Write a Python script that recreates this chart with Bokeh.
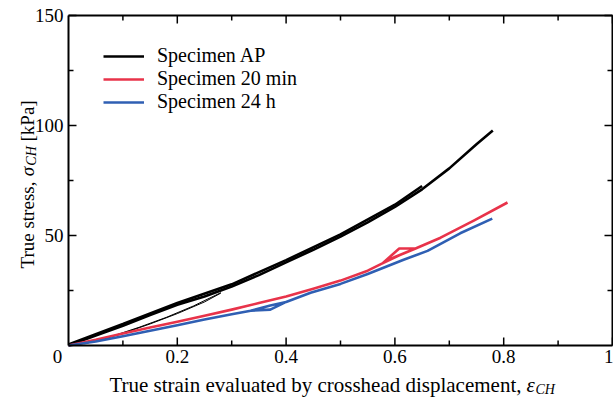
import math
from bokeh.plotting import figure
from bokeh.models import Range1d, Legend, LegendItem
from bokeh.core.properties import value
from bokeh.embed import file_html
from bokeh.resources import INLINE

# ---------------- data ----------------
# Specimen AP: envelope loading curve
ap_strain = [0.0, 0.05, 0.10, 0.15, 0.20, 0.25, 0.30, 0.35, 0.40, 0.45, 0.50, 0.55, 0.60, 0.65, 0.70, 0.75, 0.78]
ap_stress = [0.0, 4.5, 9.0, 13.8, 18.5, 22.3, 26.8, 32.0, 37.8, 43.5, 49.5, 56.0, 63.0, 71.0, 80.5, 91.5, 97.7]
# Specimen AP: earlier loading cycle up to 0.65
ap2_strain = [0.0, 0.10, 0.20, 0.30, 0.40, 0.50, 0.60, 0.65]
ap2_stress = [0.5, 9.8, 19.3, 27.8, 38.8, 50.5, 64.0, 72.5]
# Specimen AP: small initial cycles
ap3_strain = [0.03, 0.08, 0.13, 0.18, 0.23, 0.28]
ap3_stress = [0.8, 4.2, 8.3, 12.8, 18.0, 24.0]
ap4_strain = [0.05, 0.10, 0.15, 0.20, 0.25, 0.28]
ap4_stress = [2.0, 5.5, 9.8, 14.5, 19.8, 23.8]

# Specimen 20 min
m20_strain = [0.0, 0.05, 0.10, 0.15, 0.20, 0.25, 0.30, 0.35, 0.40, 0.45, 0.50, 0.55, 0.577,
              0.608, 0.638, 0.608, 0.577, 0.60, 0.638, 0.684, 0.745, 0.807]
m20_stress = [0.0, 2.6, 5.5, 8.2, 10.8, 13.5, 16.3, 19.3, 22.3, 25.8, 29.5, 34.0, 37.3,
              44.1, 44.1, 41.0, 37.3, 40.3, 44.1, 49.0, 56.8, 65.0]

# Specimen 24 h
h24_strain = [0.0, 0.05, 0.10, 0.15, 0.20, 0.25, 0.30, 0.335, 0.371, 0.40, 0.371, 0.335,
              0.371, 0.40, 0.445, 0.50, 0.55, 0.616, 0.66, 0.72, 0.779]
h24_stress = [0.0, 1.8, 4.2, 6.7, 9.2, 11.8, 14.2, 15.8, 16.3, 19.8, 18.2, 15.8,
              18.2, 19.8, 24.0, 28.0, 32.5, 39.0, 43.0, 51.0, 57.7]

series_names = ["Specimen AP", "Specimen 20 min", "Specimen 24 h"]

x_lim = [0.0, 1.0]
y_lim = [0.0, 150.0]
x_ticks = [0.2, 0.4, 0.6, 0.8, 1.0]
x_tick_labels = ["0.2", "0.4", "0.6", "0.8", "1"]
x_minor = [0.1, 0.3, 0.5, 0.7, 0.9]
y_ticks = [50, 100, 150]
y_tick_labels = ["50", "100", "150"]
y_minor = [25, 75, 125]
zero_label = "0"

x_title = "True strain evaluated by crosshead displacement,"
y_title_a = "True stress,"
y_title_b = "[kPa]"
sym_x = "ε"
sym_y = "σ"
sub = "CH"

# ---------------- layout (pixels) ----------------
W, H = 613, 398
L, R, T, B = 68, 612, 15, 345          # plot box in pixels
FONT = "Liberation Serif"
BLACK = "#000000"
RED = "#e8334a"
BLUE = "#2f5fb3"

sx = (R - L) / (x_lim[1] - x_lim[0])     # px per strain unit
sy = (B - T) / (y_lim[1] - y_lim[0])     # px per kPa

p = figure(width=W, height=H,
           x_range=Range1d(x_lim[0] - L / sx, x_lim[0] + (W - L) / sx),
           y_range=Range1d(y_lim[0] - (H - B) / sy, y_lim[1] + T / sy),
           x_axis_type=None, y_axis_type=None, output_backend="svg", toolbar_location=None,
           min_border=0)
p.outline_line_color = None
p.background_fill_color = "white"
p.border_fill_color = "white"


def dx(px):
    return x_lim[0] + (px - L) / sx


def dy(py):
    return y_lim[0] + (B - py) / sy


# ---------------- curves ----------------
r_ap = p.line(ap_strain, ap_stress, line_color=BLACK, line_width=2.6)
p.line(ap2_strain, ap2_stress, line_color=BLACK, line_width=2.6)
p.line(ap3_strain, ap3_stress, line_color=BLACK, line_width=1.0)
p.line(ap4_strain, ap4_stress, line_color=BLACK, line_width=1.0)
r_20 = p.line(m20_strain, m20_stress, line_color=RED, line_width=2.6, line_join="round")
r_24 = p.line(h24_strain, h24_stress, line_color=BLUE, line_width=2.6, line_join="round")

# ---------------- axes box, ticks, tick labels ----------------
x0, x1 = x_lim
y0, y1 = y_lim
p.multi_line(xs=[[x0, x1], [x0, x1], [x0, x0], [x1, x1]],
             ys=[[y0, y0], [y1, y1], [y0, y1], [y0, y1]],
             line_color=BLACK, line_width=2)

MAJ, MIN = 8, 5   # inward tick lengths in px
tx, ty = [], []
for x in x_ticks:
    tx += [[x, x], [x, x]]
    ty += [[y0, y0 + MAJ / sy], [y1, y1 - MAJ / sy]]
for x in x_minor:
    tx += [[x, x], [x, x]]
    ty += [[y0, y0 + MIN / sy], [y1, y1 - MIN / sy]]
for y in y_ticks:
    tx += [[x0, x0 + MAJ / sx], [x1, x1 - MAJ / sx]]
    ty += [[y, y], [y, y]]
for y in y_minor:
    tx += [[x0, x0 + MIN / sx], [x1, x1 - MIN / sx]]
    ty += [[y, y], [y, y]]
p.multi_line(xs=tx, ys=ty, line_color=BLACK, line_width=1.5)

# x tick labels (the last one sits at the right edge of the picture, kept inside it)
inner = [t for t in x_ticks if t < x1]
p.text(x=inner, y=[dy(B + 4)] * len(inner), text=x_tick_labels[:len(inner)],
       text_font=value(FONT), text_font_size="19px", text_color=BLACK,
       text_align="center", text_baseline="top")
p.text(x=[dx(W)], y=[dy(B + 4)], text=x_tick_labels[len(inner):],
       text_font=value(FONT), text_font_size="19px", text_color=BLACK,
       text_align="right", text_baseline="top")
p.text(x=[dx(L - 5)] * len(y_ticks), y=y_ticks, text=y_tick_labels,
       text_font=value(FONT), text_font_size="19px", text_color=BLACK,
       text_align="right", text_baseline="middle")
p.text(x=[dx(57)], y=[dy(B + 4)], text=[zero_label],
       text_font=value(FONT), text_font_size="19px", text_color=BLACK,
       text_align="center", text_baseline="top")


# ---------------- axis titles ----------------
def lab(px, py, text, size, style="normal", align="left", angle=0.0):
    p.text(x=[dx(px)], y=[dy(py)], text=[text], text_font=value(FONT),
           text_font_size=size, text_font_style=style, text_align=align,
           text_baseline="alphabetic", text_color=BLACK, angle=angle)


lab(521, 384, x_title, "21px", align="right")
lab(526, 384, sym_x, "21px", style="italic")
lab(535, 389, sub, "14px", style="italic")

A = math.pi / 2
lab(27, 268, y_title_a, "19px", angle=A)
lab(27, 175.7, sym_y, "19px", style="italic", angle=A)
lab(31, 165.2, sub, "14px", style="italic", angle=A)
lab(27, 141, y_title_b, "19px", angle=A)

# ---------------- legend ----------------
legend = Legend(items=[LegendItem(label=series_names[0], renderers=[r_ap]),
                       LegendItem(label=series_names[1], renderers=[r_20]),
                       LegendItem(label=series_names[2], renderers=[r_24])],
                location=(103, H - 113), padding=0, margin=0, spacing=-2,
                glyph_width=41, glyph_height=20, label_height=20, label_standoff=13,
                label_text_font=FONT, label_text_font_size="20px", label_text_color=BLACK,
                border_line_color=None, background_fill_alpha=0)
p.add_layout(legend, "center")

open("out.html", "w").write(file_html(p, INLINE))
